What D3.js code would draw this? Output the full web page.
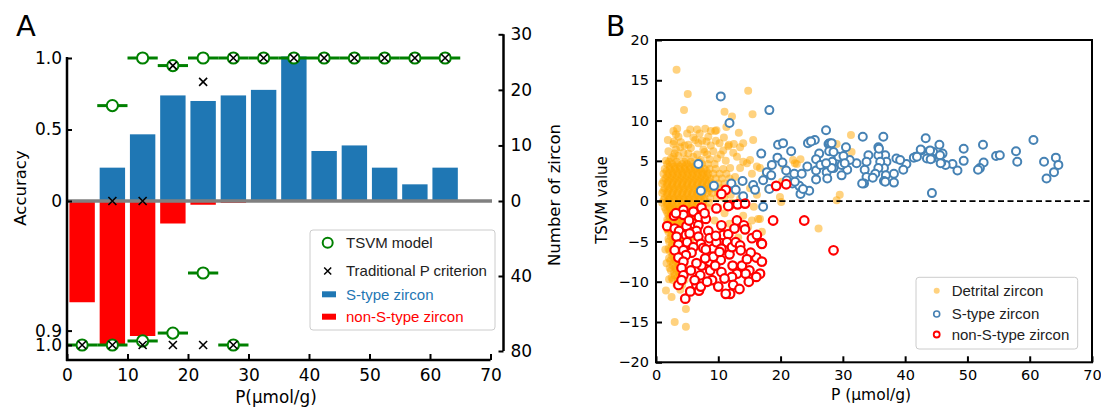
<!DOCTYPE html>
<html><head><meta charset="utf-8">
<script src="https://cdn.jsdelivr.net/npm/d3@7"></script>
<style>body{margin:0;background:#fff}svg{display:block}</style>
</head><body>
<svg id="c" width="1101" height="408"></svg>
<script>
// ---------- Panel A data ----------
const binCenters = [2.5,7.5,12.5,17.5,22.5,27.5,32.5,37.5,42.5,47.5,52.5,57.5,62.5];
const sTypeCount = [0,6,12,19,18,19,20,26,9,10,6,3,6];
const nonSCount  = [54,77,72,12,2,1,0,0,0,0,0,0,0];
const tsvmAccS   = [null,0.667,1.0,0.947,1.0,1.0,1.0,1.0,1.0,1.0,1.0,1.0,1.0];
const pCritAccS  = [null,0,0,0.947,0.833,1,1,1,1,1,1,1,1];
const tsvmAccN   = [1.0,1.0,0.972,0.917,0.5,1.0,null,null,null,null,null,null,null];
const pCritAccN  = [1,1,1,1,1,1,null,null,null,null,null,null,null];
const xTicksA = [0,10,20,30,40,50,60,70];
const accTicksUp = [0,0.5,1.0];
const accTicksDown = [0.9,1.0];
const numTicksUp = [0,10,20,30];
const numTicksDown = [40,80];
const legendA = ["TSVM model","Traditional P criterion","S-type zircon","non-S-type zircon"];

// ---------- Panel B data ----------
const xTicksB = [0,10,20,30,40,50,60,70];
const yTicksB = [-20,-15,-10,-5,0,5,10,15,20];
const legendB = ["Detrital zircon","S-type zircon","non-S-type zircon"];

const detritalOutliers = [[3.3,16.3],[5.1,13.3],[4.5,11.3],[14.8,13.7],[15.5,10.8],[11.0,11.1],[12.2,10.5],[13.3,8.5],
 [3.2,8.3],[5.5,8.9],[6.6,8.9],[7.9,9.0],[8.8,8.7],[9.7,8.8],[11.3,9.2],[2.9,7.4],[3.9,6.7],[2.8,5.5],[5.2,7.0],
 [6.3,7.6],[8.1,7.4],[10.2,7.2],[11.6,6.8],[12.5,7.1],[14.0,7.2],[15.6,7.6],[13.0,5.5],[14.6,4.7],[15.4,3.4],
 [16.2,4.3],[16.7,4.1],[20.2,2.4],[20.5,4.3],[22.6,4.6],[23.2,5.2],[29.0,7.1],[29.5,0.8],[29.0,0.1],[19.9,0.5],
 [31.3,8.2],[31.4,6.1],[22.0,5.1],[13.5,6.7],[14.0,4.9],[15.1,5.1],[13.5,4.1],[11.9,4.1],[12.7,3.0],[15.1,1.6],
 [16.2,0.8],[22.3,4.7],[10.8,6.3],[17.5,3.0],[18.0,1.5],[12.5,1.8],[13.8,2.4],
 [2.2,-0.7],[2.0,-1.7],[1.7,-7.7],[2.1,-9.7],[1.6,-11.1],[2.5,-11.9],[3.0,-15.0],[4.8,-15.6],[4.8,-13.4],
 [26.1,-3.4],[20.1,-0.1],[15.7,-0.7],[16.7,-2.2],[15.4,-2.4],[17.0,-3.8],[16.2,-6.9],[1.8,-3.5],[1.5,-6.0],
 [10.0,-0.8],[11.0,-1.5],[12.3,-0.2],[13.5,0.3],[12.0,0.8],[14.0,-1.8],[9.4,-2.4],[10.6,-3.5],[11.8,-2.8],
 [13.2,-4.5],[14.8,-3.2],[16.4,-2.2]];
const detritalMid = [[2.4,5.3],[3.6,5.6],[4.8,5.2],[6.0,5.5],[7.2,5.1],[8.2,5.8],[9.8,5.3],[2.0,6.2],[3.2,6.4],
 [4.4,6.0],[5.6,6.6],[7.6,6.4],[8.8,6.9],[2.8,7.1],[4.0,7.3],[6.8,7.2],[9.6,7.5],[11.7,7.0],[2.8,8.7],[3.6,8.0],
 [5.0,8.4],[6.0,7.9],[7.0,8.4],[8.4,8.0],[9.5,8.7],[1.6,5.0],[3.0,5.9],[5.2,5.9],[6.6,5.8],[7.8,6.1],[9.2,6.2],
 [10.4,5.8],[4.6,6.9],[7.4,7.5],[10.9,7.9],[1.9,7.6],[8.6,5.2],[11.2,5.0],[12.4,6.0],[3.4,9.0]];
const detritalCore = [
 [4.9,[2.1,3.3,4.5,5.6,6.9]],
 [4.6,[1.8,2.6,3.4,4.2,5.0,5.8,6.6,7.4,8.3,9.4]],
 [4.3,[2.2,3.0,3.8,4.6,5.4,6.2,7.0]],
 [4.0,[1.4,2.2,3.0,3.8,4.6,5.4,6.2,7.0,7.8,8.6,9.6,10.8]],
 [3.7,[1.7,2.5,3.3,4.1,4.9,5.7,6.5,7.3,8.1]],
 [3.4,[1.2,2.0,2.8,3.6,4.4,5.2,6.0,6.8,7.6,8.4,9.2,10.2,11.3]],
 [3.1,[1.8,2.6,3.4,4.2,5.0,5.8,6.6,7.4,8.2]],
 [2.8,[1.5,2.3,3.1,3.9,4.7,5.5,6.3,7.1,7.9,8.7,9.6,10.6,11.8]],
 [2.5,[1.2,2.0,2.8,3.6,4.4,5.2,6.0,6.8,7.6,8.5]],
 [2.2,[1.0,1.8,2.6,3.4,4.2,5.0,5.8,6.6,7.4,8.2,9.0,10.0,11.0]],
 [1.9,[1.8,2.6,3.4,4.2,5.0,5.8,6.6,7.4,8.2]],
 [1.6,[1.4,2.2,3.0,3.8,4.6,5.4,6.2,7.0,7.8,8.6,9.5,10.5,12.0]],
 [1.3,[1.2,2.0,2.8,3.6,4.4,5.2,6.0,6.8,7.6,8.5]],
 [1.0,[1.0,1.8,2.6,3.4,4.2,5.0,5.8,6.6,7.4,8.2,9.0,10.0]],
 [0.7,[1.8,2.6,3.4,4.2,5.0,5.8,6.6,7.4]],
 [0.4,[1.4,2.2,3.0,3.8,4.6,5.4,6.2,7.0,7.8,8.7,9.8,11.0]],
 [0.1,[1.2,2.0,2.8,3.6,4.4,5.2,6.0,6.8,7.7]],
 [-0.2,[1.0,1.8,2.6,3.4,4.2,5.0,5.8,6.6,7.5,8.5]],
 [-0.5,[1.8,2.6,3.4,4.2,5.0,5.8,6.6]],
 [-0.8,[1.4,2.2,3.0,3.8,4.6,5.4,6.2,7.1,8.2]],
 [-1.1,[1.6,2.4,3.2,4.0,4.8,5.6,6.4]],
 [-1.4,[1.8,2.6,3.4,4.2,5.0,5.8,6.7,7.7]],
 [-1.7,[2.4,3.2,4.0,4.8,5.6]],
 [-2.0,[2.2,3.0,3.8,4.6,5.4,6.3,7.3]],
 [-2.3,[1.8,2.6,3.4,4.2,5.0,5.8]],
 [-2.6,[1.9,2.7,3.5,4.3,5.1,6.0,7.0]],
 [-2.9,[2.4,3.2,4.0,4.8,5.6]],
 [-3.2,[2.3,3.1,3.9,4.7,5.6,6.6]],
 [-3.5,[1.9,2.7,3.5,4.3,5.1]],
 [-3.8,[2.0,2.8,3.6,4.4,5.3,6.2]],
 [-4.1,[2.5,3.3,4.1,4.9]],
 [-4.4,[2.4,3.2,4.0,4.9,5.8]],
 [-4.7,[2.0,2.8,3.6,4.4]],
 [-5.0,[2.1,2.9,3.7,4.6,5.5]],
 [-5.3,[2.6,3.4,4.2]],
 [-5.6,[2.5,3.3,4.1,5.0]],
 [-5.9,[2.0,2.8,3.6,4.4]],
 [-6.2,[2.2,3.0,3.8,4.7]],
 [-6.5,[2.7,3.5,4.3]],
 [-6.8,[2.6,3.4,4.3]],
 [-7.1,[2.1,2.9,3.7]],
 [-7.4,[2.3,3.1,4.0]],
 [-7.7,[2.8,3.6,4.4]],
 [-8.0,[2.7,3.6,4.5]],
 [-8.3,[2.2,3.1,3.9]],
 [-8.6,[2.4,3.3,4.2]],
 [-8.9,[2.9,3.7]],
 [-9.2,[3.0,3.9]],
 [-9.5,[2.5,3.4,4.3]],
 [-9.8,[2.7,3.6,4.6]],
 [-10.4,[3.3,4.2]],
 [-11.0,[3.9]]
];
const sTypePts = [[10.4,13.0],[18.2,11.3],[11.8,9.7],[6.8,4.6],[19.6,7.0],[20.4,7.2],[21.7,6.2],[16.9,5.9],[19.5,5.4],
 [20.3,4.8],[18.6,4.5],[17.8,3.6],[18.5,3.2],[20.9,3.8],[22.2,3.4],[7.2,1.3],[9.3,1.9],[12.1,2.2],[13.9,2.5],
 [12.8,1.4],[15.6,2.0],[15.9,1.4],[17.2,2.6],[18.2,1.5],[21.0,2.6],[21.9,2.2],[14.0,0.6],[23.0,1.9],[17.2,-0.7],
 [23.2,0.9],[24.6,1.3],[23.4,3.4],[24.3,4.3],[24.7,7.4],[25.5,7.6],[26.2,5.9],[27.3,8.8],[27.7,7.1],[27.8,6.2],
 [25.7,5.2],[25.7,3.8],[25.7,2.7],[27.4,3.6],[27.5,2.8],[28.5,4.1],[28.3,4.9],[29.3,5.5],[26.4,4.5],[33.2,8.0],
 [36.5,8.0],[43.3,7.8],[60.6,7.6],[52.5,7.0],[49.4,6.5],[45.5,7.0],[44.5,6.1],[42.6,6.3],[57.8,6.2],[54.6,5.6],
 [55.2,5.7],[58.0,4.9],[62.3,4.9],[64.2,5.4],[64.6,4.5],[63.9,3.6],[62.7,2.8],[49.4,5.0],[48.4,3.8],[47.6,4.6],
 [46.5,4.5],[45.8,4.8],[46.0,5.9],[45.6,5.7],[44.3,5.3],[43.5,5.3],[41.7,5.5],[41.4,5.4],[44.3,1.0],[52.6,4.8],
 [52.0,4.1],[51.7,3.9],[40.2,4.6],[39.7,3.9],[38.6,5.3],[38.2,3.4],[38.2,2.3],[36.8,5.7],[37.0,4.9],[36.6,4.1],
 [36.9,3.2],[36.6,2.5],[35.7,6.7],[35.7,5.7],[36.0,4.9],[35.7,4.1],[35.2,3.4],[34.1,5.7],[33.8,4.9],[33.5,3.9],
 [33.8,3.0],[34.8,2.9],[33.4,2.2],[32.2,4.7],[31.1,5.1],[30.7,3.9],[30.5,6.7],[30.1,5.6],[29.8,4.5],[28.2,4.1],
 [27.9,7.2],[27.3,4.7],[28.2,7.2],[28.5,6.1],[29.8,3.2],[30.3,4.7],[35.8,6.5],[39.2,5.1],[41.9,5.5],[42.5,6.4],
 [44.0,6.3],[44.1,5.2],[45.7,4.7],[36.8,2.4],[33.1,2.2],[24.4,7.2],[24.9,7.4],[22.3,2.4],[23.6,1.5]];
const nonSPts = [[1.8,-3.1],[2.9,-1.8],[4.4,-1.1],[4.4,-1.7],[6.0,-1.3],[7.3,-0.8],[6.9,-2.0],[6.0,-2.8],[3.0,-3.4],
 [3.7,-3.7],[4.9,-3.1],[6.8,-3.0],[6.5,-3.7],[3.3,-4.4],[4.8,-4.2],[5.0,-5.1],[3.6,-5.4],[3.0,-6.1],[4.4,-6.1],
 [6.8,-4.4],[8.4,-3.7],[8.6,-4.6],[7.2,-5.3],[7.6,-5.8],[6.0,-5.7],[5.7,-6.4],[4.8,-6.7],[3.6,-7.0],[4.4,-7.5],
 [4.1,-8.3],[4.4,-9.2],[3.6,-10.4],[4.1,-9.8],[4.7,-12.1],[6.5,-10.4],[6.9,-11.1],[7.2,-10.6],[7.1,-9.2],[7.3,-8.0],
 [6.5,-7.7],[8.6,-7.5],[8.7,-8.6],[9.2,-5.9],[9.7,-5.1],[10.8,-4.2],[11.6,-4.1],[11.4,-5.1],[10.5,-5.9],[11.8,-6.6],
 [12.2,-5.7],[13.0,-2.4],[14.1,-3.0],[14.3,-3.5],[12.8,-5.1],[13.5,-5.5],[13.6,-6.1],[15.4,-4.6],[16.2,-4.2],
 [16.9,-5.2],[16.1,-7.0],[17.0,-7.5],[16.7,-9.0],[16.1,-9.4],[15.0,-8.6],[14.4,-9.0],[13.8,-8.0],[13.0,-9.0],
 [12.3,-8.0],[12.2,-9.4],[12.4,-10.4],[11.9,-11.5],[11.2,-11.5],[10.0,-10.6],[10.5,-8.8],[10.4,-7.3],[9.5,-8.0],
 [9.2,-6.9],[7.9,-7.1],[10.5,-3.0],[11.8,-0.5],[13.1,-0.4],[14.3,-0.3],[18.8,-2.4],[3.2,-1.5],[23.8,-2.4],
 [28.5,-6.1],[17.0,-5.3],[9.7,-0.9],[11.6,-0.6],[19.3,1.9],[20.9,2.1],[11.2,1.4],[10.5,0.9],[5.3,-2.4],
 [8.0,-2.2],[9.6,-4.3],[12.6,-3.4],[15.2,-6.4],[14.6,-7.2],[11.0,-9.6],[9.0,-9.8],[8.2,-10.0],[5.6,-8.6],
 [6.2,-9.8],[5.5,-11.2],[14.9,-10.0],[13.4,-10.9],[10.2,-6.3],[8.0,-6.0],[5.4,-4.0],[7.8,-1.5]];

// ---------- drawing ----------
const svg = d3.select('#c');
const DJ = 'DejaVu Sans';
const LS = 'Liberation Sans, Arial';

// Panel A scales
const xA = d3.scaleLinear().domain([0,70]).range([67,490.5]);
const yAccUp = d3.scaleLinear().domain([0,1]).range([201,58]);
const yAccDown = d3.scaleLinear().domain([0,1]).range([201,345]);
const yNumUp = d3.scaleLinear().domain([0,30]).range([201,34.3]);
const yNumDown = d3.scaleLinear().domain([0,80]).range([201,351]);
const barW = 4.2;
const A = svg.append('g');
const bins = binCenters.map((c,i)=>({c,s:sTypeCount[i],n:nonSCount[i],ts:tsvmAccS[i],ps:pCritAccS[i],tn:tsvmAccN[i],pn:pCritAccN[i]}));

A.selectAll('.bs').data(bins.filter(d=>d.s>0)).join('rect')
 .attr('x',d=>xA(d.c-barW/2)).attr('width',d=>xA(barW)-xA(0))
 .attr('y',d=>yNumUp(d.s)).attr('height',d=>yNumUp(0)-yNumUp(d.s)).attr('fill','#1f77b4');
A.selectAll('.bn').data(bins.filter(d=>d.n>0)).join('rect')
 .attr('x',d=>xA(d.c-barW/2)).attr('width',d=>xA(barW)-xA(0))
 .attr('y',yNumDown(0)).attr('height',d=>yNumDown(d.n)-yNumDown(0)).attr('fill','#ff0000');
A.append('line').attr('x1',xA(0)).attr('x2',492).attr('y1',yAccUp(0)).attr('y2',yAccUp(0))
 .attr('stroke','#808080').attr('stroke-width',3.5);

const xPath = 'M-4,-4L4,4M-4,4L4,-4';
function drawAcc(key, ys){
  const dd = bins.filter(d=>d[key]!=null);
  A.selectAll(null).data(dd).join('line')
   .attr('x1',d=>xA(d.c-2.5)).attr('x2',d=>xA(d.c+2.5)).attr('y1',d=>ys(d[key])).attr('y2',d=>ys(d[key]))
   .attr('stroke','#008000').attr('stroke-width',3);
  A.selectAll(null).data(dd).join('circle')
   .attr('cx',d=>xA(d.c)).attr('cy',d=>ys(d[key])).attr('r',5.6)
   .attr('fill','#fff').attr('stroke','#008000').attr('stroke-width',2);
}
drawAcc('ts',yAccUp);
drawAcc('tn',yAccDown);
function drawX(key, ys){
  A.selectAll(null).data(bins.filter(d=>d[key]!=null)).join('path')
   .attr('d',xPath).attr('transform',d=>`translate(${xA(d.c)},${ys(d[key])})`)
   .attr('stroke','#000').attr('stroke-width',1.6).attr('fill','none');
}
drawX('ps',yAccUp);
drawX('pn',yAccDown);

// spines
A.append('line').attr('x1',67).attr('x2',67).attr('y1',57).attr('y2',361).attr('stroke','#000').attr('stroke-width',2.5);
A.append('line').attr('x1',66).attr('x2',xA(70)).attr('y1',360).attr('y2',360).attr('stroke','#000').attr('stroke-width',2.5);
A.append('line').attr('x1',503.5).attr('x2',503.5).attr('y1',yNumUp(30)).attr('y2',yNumDown(80)).attr('stroke','#000').attr('stroke-width',2.5);

function styleAxis(g,fs){
  g.select('.domain').remove();
  g.attr('font-family',DJ).attr('font-size',fs);
  g.selectAll('.tick line').attr('stroke','#000').attr('stroke-width',2);
  g.selectAll('.tick text').attr('fill','#000');
}
const fmtAcc = d=> d===0 ? '0' : d.toFixed(1);
A.append('g').attr('transform','translate(67,0)')
 .call(d3.axisLeft(yAccUp).tickValues(accTicksUp).tickSize(-5).tickPadding(5).tickFormat(fmtAcc)).call(g=>styleAxis(g,17));
A.append('g').attr('transform','translate(67,0)')
 .call(d3.axisLeft(yAccDown).tickValues(accTicksDown).tickSize(-5).tickPadding(5).tickFormat(fmtAcc)).call(g=>styleAxis(g,17));
A.append('g').attr('transform','translate(503.5,0)')
 .call(d3.axisRight(yNumUp).tickValues(numTicksUp).tickSize(-5).tickPadding(7)).call(g=>styleAxis(g,17));
A.append('g').attr('transform','translate(503.5,0)')
 .call(d3.axisRight(yNumDown).tickValues(numTicksDown).tickSize(-5).tickPadding(7)).call(g=>styleAxis(g,17));
A.append('g').attr('transform','translate(0,360)')
 .call(d3.axisBottom(xA).tickValues(xTicksA).tickSize(-6).tickPadding(9)).call(g=>styleAxis(g,17));

A.append('text').text('A').attr('x',16).attr('y',36).attr('font-family',DJ).attr('font-size',29);
A.append('text').text('Accuracy').attr('transform','translate(20,188) rotate(-90)').attr('text-anchor','middle')
 .attr('dominant-baseline','central').attr('font-family',DJ).attr('font-size',16.5);
A.append('text').text('Number of zircon').attr('transform','translate(554,195) rotate(-90)').attr('text-anchor','middle')
 .attr('dominant-baseline','central').attr('font-family',DJ).attr('font-size',16.5);
A.append('text').text('P(μmol/g)').attr('x',276).attr('y',403).attr('text-anchor','middle').attr('font-family',DJ).attr('font-size',16.8);

// legend A
const LA = A.append('g');
LA.append('rect').attr('x',310).attr('y',230).attr('width',185).attr('height',100).attr('rx',3)
 .attr('fill','#fff').attr('fill-opacity',0.8).attr('stroke','#cccccc').attr('stroke-width',1);
const laY = [242.7,271,294.3,316.7];
const laCol = ['#222','#222','#1f77b4','#ff0000'];
LA.append('circle').attr('cx',327.7).attr('cy',laY[0]).attr('r',5).attr('fill','#fff').attr('stroke','#008000').attr('stroke-width',2);
LA.append('path').attr('d','M-3.5,-3.5L3.5,3.5M-3.5,3.5L3.5,-3.5').attr('transform',`translate(327.7,${laY[1]})`).attr('stroke','#000').attr('stroke-width',1.5);
LA.append('rect').attr('x',322).attr('y',laY[2]-3).attr('width',14).attr('height',6).attr('fill','#1f77b4');
LA.append('rect').attr('x',322).attr('y',laY[3]-3).attr('width',14).attr('height',6).attr('fill','#ff0000');
LA.selectAll(null).data(legendA).join('text').text(d=>d).attr('x',346).attr('y',(d,i)=>laY[i]).attr('dy','0.35em')
 .attr('font-family',LS).attr('font-size',15).attr('fill',(d,i)=>laCol[i]);

// Panel B
const xB = d3.scaleLinear().domain([0,70]).range([656,1092]);
const yB = d3.scaleLinear().domain([-20,20]).range([362.3,40]);
const B = svg.append('g');
const detrital = detritalCore.flatMap(([v,ps])=>ps.map(p=>[p,v])).concat(detritalMid,detritalOutliers);
B.selectAll('.dz').data(detrital).join('circle').attr('cx',d=>xB(d[0])).attr('cy',d=>yB(d[1])).attr('r',4)
 .attr('fill','#FFA500').attr('fill-opacity',0.5);
B.selectAll('.sz').data(sTypePts).join('circle').attr('cx',d=>xB(d[0])).attr('cy',d=>yB(d[1])).attr('r',4)
 .attr('fill','#fff').attr('stroke','#4682B4').attr('stroke-width',2);
B.selectAll('.nz').data(nonSPts).join('circle').attr('cx',d=>xB(d[0])).attr('cy',d=>yB(d[1])).attr('r',4.3)
 .attr('fill','#fff').attr('stroke','#ff0000').attr('stroke-width',2.2);
B.append('line').attr('x1',xB(0)).attr('x2',xB(70)).attr('y1',yB(0)).attr('y2',yB(0))
 .attr('stroke','#000').attr('stroke-width',1.8).attr('stroke-dasharray','6,3.5');
B.append('rect').attr('x',xB(0)).attr('y',yB(20)).attr('width',xB(70)-xB(0)).attr('height',yB(-20)-yB(20))
 .attr('fill','none').attr('stroke','#000').attr('stroke-width',2);
B.append('g').attr('transform',`translate(${xB(0)},0)`)
 .call(d3.axisLeft(yB).tickValues(yTicksB).tickSize(-6).tickPadding(7)).call(g=>styleAxis(g,14.5));
B.append('g').attr('transform',`translate(0,${yB(-20)})`)
 .call(d3.axisBottom(xB).tickValues(xTicksB).tickSize(-6).tickPadding(7)).call(g=>styleAxis(g,14.5));
B.append('text').text('B').attr('x',606).attr('y',36).attr('font-family',DJ).attr('font-size',28);
B.append('text').text('TSVM value').attr('transform','translate(602,200) rotate(-90)').attr('text-anchor','middle')
 .attr('dominant-baseline','central').attr('font-family',DJ).attr('font-size',15);
B.append('text').text('P (μmol/g)').attr('x',871).attr('y',400).attr('text-anchor','middle').attr('font-family',DJ).attr('font-size',15.5);

const LB = B.append('g');
LB.append('rect').attr('x',916).attr('y',277.3).attr('width',161.7).attr('height',71.7).attr('rx',3)
 .attr('fill','#fff').attr('fill-opacity',0.8).attr('stroke','#cccccc').attr('stroke-width',1);
const lbY = [290.7,314,334.5];
LB.append('circle').attr('cx',936.7).attr('cy',lbY[0]).attr('r',3).attr('fill','#FFA500').attr('fill-opacity',0.5);
LB.append('circle').attr('cx',936.7).attr('cy',lbY[1]).attr('r',3).attr('fill','#fff').attr('stroke','#4682B4').attr('stroke-width',1.6);
LB.append('circle').attr('cx',936.7).attr('cy',lbY[2]).attr('r',3).attr('fill','#fff').attr('stroke','#ff0000').attr('stroke-width',1.8);
LB.selectAll(null).data(legendB).join('text').text(d=>d).attr('x',951.7).attr('y',(d,i)=>lbY[i]).attr('dy','0.35em')
 .attr('font-family',LS).attr('font-size',15).attr('fill','#222');
</script>
</body></html>
